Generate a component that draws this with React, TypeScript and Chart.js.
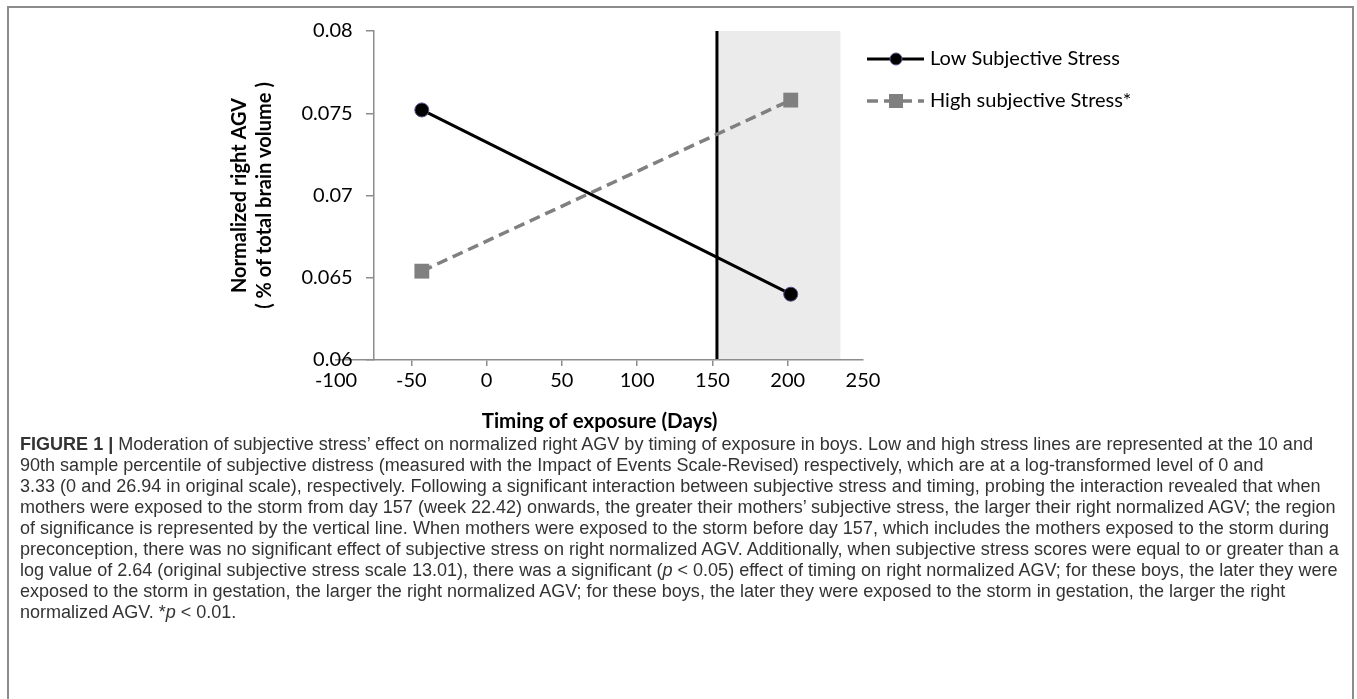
import React, { useEffect, useRef } from 'react';
import { Chart, registerables } from 'chart.js';

Chart.register(...registerables);

// ---- data ----
const TIMING_DAYS = [-43, 202];
const LOW_STRESS = [0.0752, 0.064];
const HIGH_STRESS = [0.0654, 0.0758];
const SERIES_LABELS = ['Low Subjective Stress', 'High subjective Stress*'];
const X_TICKS = [-100, -50, 0, 50, 100, 150, 200, 250];
const X_TICK_LABELS = ['-100', '-50', '0', '50', '100', '150', '200', '250'];
const Y_TICKS = [0.06, 0.065, 0.07, 0.075, 0.08];
const Y_TICK_LABELS = ['0.06', '0.065', '0.07', '0.075', '0.08'];
const SIGNIFICANCE_START = 153;
const SIGNIFICANCE_END = 235;
const Y_AXIS_CROSSES_AT = -75;
const X_TITLE = 'Timing of exposure (Days)';
const Y_TITLE = ['Normalized right AGV', '( % of total brain volume )'];

const CAPTION_LINES: { bold?: string; parts: (string | { i: string })[] }[] = [
  { bold: 'FIGURE 1 |', parts: [' Moderation of subjective stress\u2019 effect on normalized right AGV by timing of exposure in boys. Low and high stress lines are represented at the 10 and'] },
  { parts: ['90th sample percentile of subjective distress (measured with the Impact of Events Scale-Revised) respectively, which are at a log-transformed level of 0 and'] },
  { parts: ['3.33 (0 and 26.94 in original scale), respectively. Following a significant interaction between subjective stress and timing, probing the interaction revealed that when'] },
  { parts: ['mothers were exposed to the storm from day 157 (week 22.42) onwards, the greater their mothers\u2019 subjective stress, the larger their right normalized AGV; the region'] },
  { parts: ['of significance is represented by the vertical line. When mothers were exposed to the storm before day 157, which includes the mothers exposed to the storm during'] },
  { parts: ['preconception, there was no significant effect of subjective stress on right normalized AGV. Additionally, when subjective stress scores were equal to or greater than a'] },
  { parts: ['log value of 2.64 (original subjective stress scale 13.01), there was a significant (', { i: 'p' }, ' < 0.05) effect of timing on right normalized AGV; for these boys, the later they were'] },
  { parts: ['exposed to the storm in gestation, the larger the right normalized AGV; for these boys, the later they were exposed to the storm in gestation, the larger the right'] },
  { parts: ['normalized AGV. *', { i: 'p' }, ' < 0.01.'] },
];

const CHART_FONT = 'Lato, "Open Sans", sans-serif';

const regionPlugin = {
  id: 'significanceRegion',
  beforeDraw(chart: any) {
    const { ctx, scales } = chart;
    const xs = scales.x;
    const ys = scales.y;
    const x1 = xs.getPixelForValue(SIGNIFICANCE_START);
    const x2 = xs.getPixelForValue(SIGNIFICANCE_END);
    const top = ys.getPixelForValue(Y_TICKS[Y_TICKS.length - 1]);
    const bottom = ys.getPixelForValue(Y_TICKS[0]);
    ctx.save();
    ctx.fillStyle = '#ebebeb';
    ctx.fillRect(x1, top, x2 - x1, bottom - top);
    ctx.strokeStyle = '#000';
    ctx.lineWidth = 3;
    ctx.beginPath();
    ctx.moveTo(x1, top);
    ctx.lineTo(x1, bottom);
    ctx.stroke();
    ctx.restore();
  },
};

// y tick labels of the crossing axis, placed left of the axis line (Chart.js puts them flush otherwise)
const yLabelPlugin = {
  id: 'yAxisLabels',
  afterDraw(chart: any) {
    const { ctx, scales } = chart;
    const ys = scales.y;
    const axisX = scales.x.getPixelForValue(Y_AXIS_CROSSES_AT);
    ctx.save();
    ctx.fillStyle = '#000';
    ctx.font = `20px ${CHART_FONT}`;
    ctx.textAlign = 'right';
    ctx.textBaseline = 'middle';
    Y_TICKS.forEach((v, i) => {
      ctx.fillText(Y_TICK_LABELS[i], axisX - 21, ys.getPixelForValue(v));
    });
    ctx.restore();
  },
};

const legendPlugin = {
  id: 'sideLegend',
  afterDraw(chart: any) {
    const { ctx, chartArea } = chart;
    const x0 = chartArea.right + 4;
    const rows = [59, 101];
    chart.data.datasets.forEach((ds: any, i: number) => {
      const y = rows[i];
      ctx.save();
      ctx.strokeStyle = ds.borderColor;
      ctx.lineWidth = ds.borderWidth;
      ctx.setLineDash(ds.borderDash || []);
      ctx.beginPath();
      ctx.moveTo(x0, y);
      ctx.lineTo(x0 + 57, y);
      ctx.stroke();
      ctx.setLineDash([]);
      const cx = x0 + 29;
      ctx.fillStyle = ds.pointBackgroundColor;
      if (ds.pointStyle === 'rect') {
        ctx.fillRect(cx - 7, y - 7, 14, 14);
      } else {
        ctx.beginPath();
        ctx.arc(cx, y, 6, 0, Math.PI * 2);
        ctx.fill();
        ctx.strokeStyle = ds.pointBorderColor;
        ctx.lineWidth = 1;
        ctx.stroke();
      }
      ctx.fillStyle = '#000';
      ctx.font = `20px ${CHART_FONT}`;
      ctx.textBaseline = 'middle';
      ctx.textAlign = 'left';
      ctx.fillText(ds.label, x0 + 63, y);
      ctx.restore();
    });
  },
};

function FigureChart() {
  const ref = useRef<HTMLCanvasElement | null>(null);
  useEffect(() => {
    if (!ref.current) return;
    const tickFont = { family: CHART_FONT, size: 20 };
    const chart = new Chart(ref.current, {
      type: 'line',
      data: {
        datasets: [
          {
            label: SERIES_LABELS[0],
            data: TIMING_DAYS.map((x, i) => ({ x, y: LOW_STRESS[i] })),
            borderColor: '#000',
            borderWidth: 3,
            pointStyle: 'circle',
            pointRadius: 7,
            pointBackgroundColor: '#000',
            pointBorderColor: '#5b4b8a',
            pointBorderWidth: 1,
            xAxisID: 'x',
            yAxisID: 'y',
          } as any,
          {
            label: SERIES_LABELS[1],
            data: TIMING_DAYS.map((x, i) => ({ x, y: HIGH_STRESS[i] })),
            borderColor: '#808080',
            borderWidth: 3.5,
            borderDash: [11, 6],
            pointStyle: 'rect',
            pointRadius: 10.5,
            pointBackgroundColor: '#808080',
            pointBorderColor: '#808080',
            pointBorderWidth: 0,
            xAxisID: 'x',
            yAxisID: 'y',
          } as any,
        ],
      },
      options: {
        animation: false,
        responsive: false,
        events: [],
        layout: { padding: { left: 200, right: 494, top: 31, bottom: 6.1 } },
        plugins: { legend: { display: false }, tooltip: { enabled: false } },
        scales: {
          x: {
            type: 'linear',
            position: 'bottom',
            min: X_TICKS[0],
            max: X_TICKS[X_TICKS.length - 1],
            afterBuildTicks: (s: any) => {
              s.ticks = X_TICKS.map((v) => ({ value: v }));
            },
            ticks: {
              callback: (_v: any, i: number) => X_TICK_LABELS[i],
              font: tickFont,
              color: '#000',
              padding: 3,
              maxRotation: 0,
              autoSkip: false,
            },
            grid: {
              drawOnChartArea: false,
              drawTicks: true,
              tickLength: 6,
              lineWidth: 1.5,
              color: (c: any) =>
                c.tick && (c.tick.value === X_TICKS[0] || c.tick.value === X_TICKS[X_TICKS.length - 1])
                  ? 'rgba(0,0,0,0)'
                  : '#8c8c8c',
            },
            border: { color: '#8c8c8c', width: 1.5 },
            title: {
              display: true,
              text: X_TITLE,
              color: '#000',
              font: { family: CHART_FONT, size: 20.5, weight: 'bold' },
              padding: { top: 13.3, bottom: 0 },
            },
          },
          y: {
            type: 'linear',
            position: { x: Y_AXIS_CROSSES_AT } as any,
            min: Y_TICKS[0],
            max: Y_TICKS[Y_TICKS.length - 1],
            afterBuildTicks: (s: any) => {
              s.ticks = Y_TICKS.map((v) => ({ value: v }));
            },
            ticks: { display: false },
            grid: { drawOnChartArea: false, drawTicks: true, tickLength: 7, lineWidth: 1.5, color: '#8c8c8c' },
            border: { color: '#8c8c8c', width: 1.5 },
          },
          yTitle: {
            type: 'linear',
            axis: 'y',
            position: 'left',
            min: Y_TICKS[0],
            max: Y_TICKS[Y_TICKS.length - 1],
            ticks: { display: false },
            grid: { display: false, drawTicks: false, tickLength: 0 },
            border: { display: false },
            title: {
              display: true,
              text: Y_TITLE,
              color: '#000',
              font: { family: CHART_FONT, size: 20, weight: 'bold', lineHeight: 25 / 20 },
              padding: { top: 27.5, bottom: 58.5 },
            },
          } as any,
        },
      } as any,
      plugins: [regionPlugin, yLabelPlugin, legendPlugin],
    });
    return () => chart.destroy();
  }, []);
  return (
    <canvas
      ref={ref}
      width={1357}
      height={440}
      style={{ position: 'absolute', left: 0, top: 0, width: 1357, height: 440, display: 'block' }}
    />
  );
}

export default function App() {
  return (
    <div style={{ position: 'absolute', left: 0, top: 0, width: 1357, height: 699, overflow: 'hidden', background: '#fff' }}>
      <div
        style={{
          position: 'absolute',
          left: 7,
          top: 6,
          width: 1343,
          height: 720,
          border: '2px solid #8c8c8c',
        }}
      />
      <FigureChart />
      <div
        style={{
          position: 'absolute',
          left: 20,
          top: 434,
          fontFamily: '"Liberation Sans", Arial, sans-serif',
          fontSize: 18.05,
          lineHeight: '21px',
          color: '#333',
          whiteSpace: 'nowrap',
        }}
      >
        {CAPTION_LINES.map((line, li) => (
          <div key={li}>
            {line.bold ? <b>{line.bold}</b> : null}
            {line.parts.map((p, pi) => (typeof p === 'string' ? <span key={pi}>{p}</span> : <i key={pi}>{p.i}</i>))}
          </div>
        ))}
      </div>
    </div>
  );
}
